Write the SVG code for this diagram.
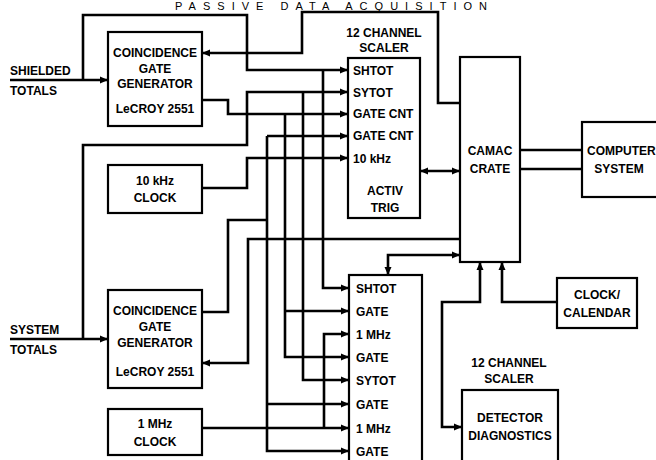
<svg xmlns="http://www.w3.org/2000/svg" width="656" height="460" viewBox="0 0 656 460">
<style>
.box{fill:none;stroke:#000;stroke-width:2.2}
.t{font-family:"Liberation Sans",Arial,sans-serif;font-weight:bold;font-size:12px;fill:#000}
.c{text-anchor:middle}
.w{fill:none;stroke:#000;stroke-width:2.6;stroke-linejoin:miter}
.a{marker-end:url(#ah)}
.b{marker-end:url(#ah);marker-start:url(#ah)}
.title{font-family:"Liberation Sans",Arial,sans-serif;font-size:11px;fill:#000}
</style>
<defs>
<marker id="ah" markerUnits="userSpaceOnUse" markerWidth="9" markerHeight="8" refX="8" refY="4" orient="auto-start-reverse">
<path d="M0,0.5 L8,4 L0,7.5 z" fill="#000"/>
</marker>
</defs>
<rect width="656" height="460" fill="#fff"/>
<text class="title" x="175" y="9.5" textLength="312" lengthAdjust="spacing">PASSIVE DATA ACQUISITION</text>

<g id="connectors">
<path class="w a" d="M10,80 H108"/>
<path class="w a" d="M83,80 V15 H247 V70 H348"/>
<path class="w a" d="M323,70 V288 H349"/>
<path class="w a" d="M10,339 H108"/>
<path class="w a" d="M83,339 V145 H247 V92 H348"/>
<path class="w a" d="M303,92 V380 H349"/>
<path class="w a" d="M202,100 H228 V114 H348"/>
<path class="w a" d="M285,114 V357 H349"/>
<path class="w a" d="M285,311 H349"/>
<path class="w" d="M202,312 H228 V220 H267"/>
<path class="w a" d="M267,136 H348"/>
<path class="w a" d="M267,136 V451 H349"/>
<path class="w a" d="M267,404 H349"/>
<path class="w a" d="M202,188 H247 V158 H348"/>
<path class="w a" d="M202,428 H349"/>
<path class="w a" d="M324,428 V334 H349"/>
<path class="w a" d="M460,103 H438 V12 H302 V53 H202"/>
<path class="w a" d="M460,239 H248 V363 H202"/>
<path class="w b" d="M420,171 H460"/>
<path class="w b" d="M388,275 V255 H460"/>
<path class="w b" d="M480,262 V302 H442 V427 H462"/>
<path class="w a" d="M557,302 H502 V262"/>
<path class="w" d="M520,150 H582"/>
<path class="w" d="M520,169 H582"/>
</g>

<g id="shielded-totals">
<text class="t" x="10" y="75">SHIELDED</text>
<text class="t" x="10" y="95">TOTALS</text>
</g>
<g id="system-totals">
<text class="t" x="10" y="334">SYSTEM</text>
<text class="t" x="10" y="354">TOTALS</text>
</g>

<g id="coinc-top">
<rect class="box" x="108" y="32" width="94" height="94"/>
<text class="t c" x="155" y="57">COINCIDENCE</text>
<text class="t c" x="155" y="73">GATE</text>
<text class="t c" x="155" y="88">GENERATOR</text>
<text class="t c" x="155" y="113">LeCROY 2551</text>
</g>

<g id="clock-10khz">
<rect class="box" x="108" y="165" width="94" height="48"/>
<text class="t c" x="155" y="185">10 kHz</text>
<text class="t c" x="155" y="202">CLOCK</text>
</g>

<g id="coinc-bottom">
<rect class="box" x="108" y="290" width="94" height="98"/>
<text class="t c" x="155" y="315">COINCIDENCE</text>
<text class="t c" x="155" y="331">GATE</text>
<text class="t c" x="155" y="347">GENERATOR</text>
<text class="t c" x="155" y="376">LeCROY 2551</text>
</g>

<g id="clock-1mhz">
<rect class="box" x="108" y="409" width="94" height="46"/>
<text class="t c" x="155" y="428">1 MHz</text>
<text class="t c" x="155" y="446">CLOCK</text>
</g>

<g id="scaler-top">
<text class="t c" x="384" y="37">12 CHANNEL</text>
<text class="t c" x="384" y="52">SCALER</text>
<rect class="box" x="348" y="58" width="72" height="160"/>
<text class="t" x="353" y="75">SHTOT</text>
<text class="t" x="353" y="97">SYTOT</text>
<text class="t" x="353" y="118">GATE CNT</text>
<text class="t" x="353" y="140">GATE CNT</text>
<text class="t" x="353" y="163">10 kHz</text>
<text class="t c" x="385" y="195">ACTIV</text>
<text class="t c" x="385" y="212">TRIG</text>
</g>

<g id="scaler-bottom">
<rect class="box" x="349" y="275" width="73" height="195"/>
<text class="t" x="356" y="293">SHTOT</text>
<text class="t" x="356" y="316">GATE</text>
<text class="t" x="356" y="339">1 MHz</text>
<text class="t" x="356" y="362">GATE</text>
<text class="t" x="356" y="385">SYTOT</text>
<text class="t" x="356" y="409">GATE</text>
<text class="t" x="356" y="433">1 MHz</text>
<text class="t" x="356" y="456">GATE</text>
</g>

<g id="camac">
<rect class="box" x="460" y="57" width="60" height="205"/>
<text class="t c" x="490" y="155">CAMAC</text>
<text class="t c" x="490" y="173">CRATE</text>
</g>

<g id="computer">
<rect class="box" x="582" y="122" width="78" height="75"/>
<text class="t" x="587" y="155">COMPUTER</text>
<text class="t c" x="619" y="173">SYSTEM</text>
</g>

<g id="clock-calendar">
<rect class="box" x="557" y="278" width="80" height="50"/>
<text class="t c" x="597" y="299">CLOCK/</text>
<text class="t c" x="597" y="317">CALENDAR</text>
</g>

<g id="detector">
<text class="t c" x="509" y="367">12 CHANNEL</text>
<text class="t c" x="509" y="383">SCALER</text>
<rect class="box" x="462" y="390" width="96" height="80"/>
<text class="t c" x="510" y="422">DETECTOR</text>
<text class="t c" x="510" y="440">DIAGNOSTICS</text>
</g>
</svg>
